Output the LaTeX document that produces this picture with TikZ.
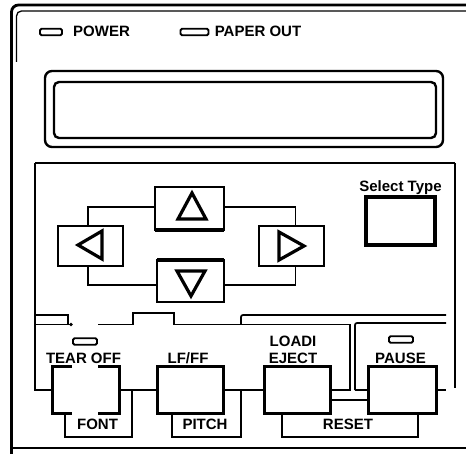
\documentclass[tikz,border=0pt]{standalone}
\usepackage{fontspec}
\setmainfont{Liberation Sans}
\begin{document}
\begin{tikzpicture}[x=1pt,y=-1pt,line join=miter,
  lbl/.style={font=\bfseries\fontsize{15}{15}\selectfont, inner sep=0pt, anchor=base},
  led/.style={draw, line width=1.9pt, rounded corners=1.5pt, inner sep=0pt, outer sep=0pt, minimum height=6.5pt},
  abtn/.style={draw, line width=1.5pt, inner sep=0pt, outer sep=0pt},
  btn/.style={draw, line width=3pt, inner sep=0pt, outer sep=0pt, minimum height=47pt},
  ghost/.style={inner sep=0pt, outer sep=0pt, minimum height=47pt},
  conn/.style={line width=1.5pt},
  tri/.style={line width=3.2pt, line join=miter}]
\useasboundingbox (0,0) rectangle (466,454);
% outer frame
\draw[line width=2.8pt, rounded corners=7pt] (11.5,454) -- (11.5,5) -- (466,5);
\draw[line width=1.3pt, rounded corners=5pt] (16.5,62) -- (16.5,11) -- (466,11);
\draw[line width=2.8pt] (13,448) -- (466,448);
% status LEDs
\node[led, minimum width=22pt] (ledpower) at (51,32) {};
\node[lbl] (tpower) at (101.5,37) {POWER};
\node[led, minimum width=28pt] (ledpaper) at (194.5,32) {};
\node[lbl] (tpaper) at (258,37) {PAPER OUT};
% display
\node[draw, line width=2.4pt, rounded corners=7pt, minimum width=398pt, minimum height=76pt, inner sep=0pt] (dispout) at (244,109) {};
\node[draw, line width=2.4pt, rounded corners=5pt, minimum width=382pt, minimum height=56pt, inner sep=0pt] (dispin) at (245,110) {};
% panel border
\coordinate (ptl) at (35,163);
\coordinate (ptr) at (455,163);
\coordinate (pbr) at (455,388);
\draw[line width=2.4pt] (ptl) -- (ptr);
\draw[line width=1.6pt] (ptr) -- (pbr);
% arrow buttons
\node[abtn, minimum width=69pt, minimum height=43pt] (up) at (189.5,208.5) {};
\node[abtn, minimum width=67pt, minimum height=42pt] (down) at (190.5,281) {};
\node[abtn, minimum width=65pt, minimum height=40pt] (left) at (90.5,246) {};
\node[abtn, minimum width=65pt, minimum height=40pt] (right) at (291.5,246) {};
\draw[line width=3.4pt] (up.south west) -- (up.south east);
\draw[line width=2.8pt] (up.north west) -- (up.south west);
\draw[line width=3.4pt] (down.north west) -- (down.north east);
\draw[line width=2.8pt] (down.north west) -- (down.south west);
\draw[tri] (178,219) -- (206,219) -- (192,193) -- cycle;
\draw[tri] (177,271) -- (205,271) -- (191,296) -- cycle;
\draw[tri] (102,231) -- (102,259) -- (78,245) -- cycle;
\draw[tri] (279,232) -- (279,260) -- (304,246) -- cycle;
\draw[conn] ([xshift=-2.5pt]left.north) |- ([yshift=1.5pt]up.west);
\draw[conn] ([yshift=1.5pt]up.east) -| ([xshift=4pt]right.north);
\draw[conn] ([xshift=-2.5pt]left.south) |- ([yshift=-4pt]down.west);
\draw[conn] ([yshift=-4pt]down.east) -| ([xshift=4pt]right.south);
% select type
\node[lbl] (tselect) at (400.5,192) {Select Type};
\node[draw, line width=3.4pt, inner sep=0pt, outer sep=0pt, minimum width=69pt, minimum height=48pt] (select) at (400.5,221) {};
% separators
\draw[conn] (35,315) -| (68,324.5);
\draw[conn] (35,324.5) -- (72,324.5);
\fill (71,324.5) circle (1.8pt);
\draw[line width=1.7pt, rounded corners=2pt] (241,324.5) -- (241,315) -- (446,315);
% bottom buttons
\node[ghost, minimum width=67pt] (tear) at (85.5,390) {};
\node[btn, minimum width=66pt] (lfff) at (190,390) {};
\node[btn, minimum width=66pt] (load) at (297,390) {};
\node[btn, minimum width=68pt] (pause) at (402,390) {};
\draw[line width=3pt] ([xshift=-13.5pt]tear.north) -| (tear.south west) -- ([xshift=-13.5pt]tear.south);
\draw[line width=3pt] ([xshift=12.5pt]tear.north) -| (tear.south east) -- ([xshift=12.5pt]tear.south);
\draw[line width=1.6pt] (ptl) -- (35,390) -- (tear.west);
\draw[conn] (98,324.5) -- (133,324.5) |- (174,313) |- (350,324.5) -- (350,390) -- (load.east);
\draw[line width=1.7pt, rounded corners=2pt] (446,323) -- (355,323) -- (355,390);
\draw[conn] (355,390) -- (pause.west);
% bottom LEDs and labels
\node[led, minimum width=24pt] (ledtear) at (85,341.5) {};
\node[led, minimum width=24pt] (ledpause) at (401,339.5) {};
\node[lbl] (ttear) at (83.5,363) {TEAR OFF};
\node[lbl] (tlfff) at (188,363) {LF/FF};
\node[lbl] (tload) at (293,347) {LOADI};
\node[lbl] (teject) at (293,363) {EJECT};
\node[lbl] (tpause) at (400.5,363) {PAUSE};
% connectors between buttons
\coordinate (fontR) at (132,390);
\coordinate (pitchR) at (241,390);
\coordinate (pend) at (446,390);
\draw[conn] (tear.east) -- (lfff.west);
\draw[conn] (lfff.east) -- (load.west);
\draw[conn] (pause.east) -- (pend);
\draw[conn] ([yshift=-10pt]load.east) -- ([yshift=-10pt]pause.west);
% brackets
\draw[conn] ([xshift=-20.5pt]tear.south) -- ++(0,23.5) -| (fontR);
\draw[conn] ([xshift=-18pt]lfff.south) -- ++(0,23.5) -| (pitchR);
\draw[conn] ([xshift=-15pt]load.south) -- ++(0,23.5) -| ([xshift=16pt]pause.south);
\node[lbl] (tfont) at (97.5,429) {FONT};
\node[lbl] (tpitch) at (205,429) {PITCH};
\node[lbl] (treset) at (348,429) {RESET};
\end{tikzpicture}
\end{document}
